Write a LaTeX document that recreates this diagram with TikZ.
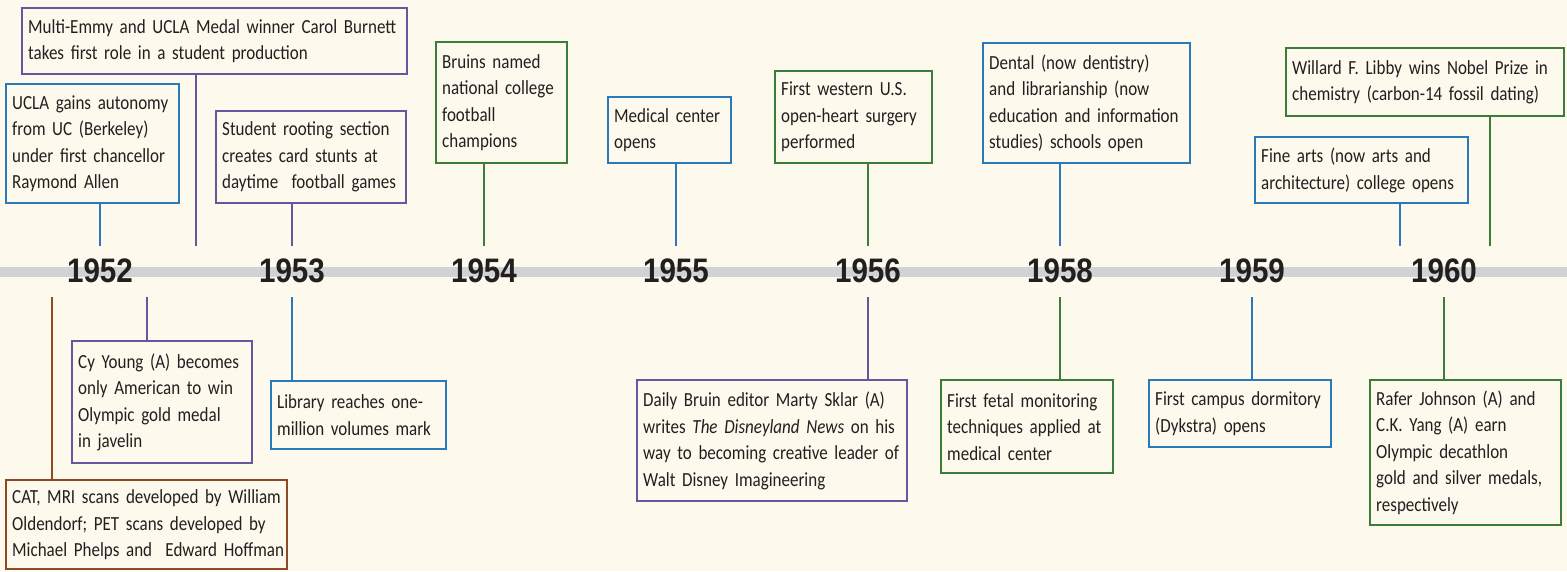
\documentclass[tikz,border=0pt]{standalone}
\usepackage{fontspec}
\setmainfont{Carlito}[FakeStretch=0.85]
\newfontfamily\yearfont{Liberation Sans}[FakeStretch=0.87]
\usetikzlibrary{positioning, backgrounds}
\definecolor{cream}{HTML}{FDF9ED}
\definecolor{ucblue}{HTML}{2A7AB9}
\definecolor{ucpurple}{HTML}{6B55A1}
\definecolor{ucgreen}{HTML}{3D7D3A}
\definecolor{ucbrown}{HTML}{8E4A23}
\definecolor{bargray}{HTML}{D1D2D4}
\definecolor{ink}{HTML}{231F20}
\newcommand{\evfont}{\fontsize{20}{26.5}\selectfont\hyphenpenalty=10000\relax
	\spaceskip=0.85\fontdimen2\font\relax}
\tikzset{%
	event/.style={draw, rectangle, line width=2.4pt, fill=cream, anchor=north west,%
		align=left, inner xsep=6pt, inner ysep=0pt, text=ink, font=\evfont},
	blu/.style={draw=ucblue},
	pur/.style={draw=ucpurple},
	grn/.style={draw=ucgreen},
	brn/.style={draw=ucbrown},
	stem/.style={line width=2.4pt},
	year/.style={font=\yearfont\bfseries\fontsize{34}{34}\selectfont, text=ink, inner sep=0pt},
	bar/.style={line width=10pt, draw=bargray}
}
\begin{document}
\begin{tikzpicture}[x=1pt, y=-1pt]
	\useasboundingbox (0,0) rectangle (1567,571);
	\fill[cream] (0,0) rectangle (1567,571);
	\coordinate (barL) at (0,272);
	\coordinate (barR) at (1567,272);
	\draw[bar] (barL) -- (barR);

	\node[year] (y52) at (100,271) {1952};
	\node[year] (y53) at (292,271) {1953};
	\node[year] (y54) at (484,271) {1954};
	\node[year] (y55) at (676,271) {1955};
	\node[year] (y56) at (868,271) {1956};
	\node[year] (y58) at (1060,271) {1958};
	\node[year] (y59) at (1252,271) {1959};
	\node[year] (y60) at (1444,271) {1960};

	% events above the line
	\node[event, blu, minimum width=173pt, minimum height=119pt, text width=161pt] (ucla) at (5,83)
		{UCLA gains autonomy\\from UC (Berkeley)\\under first chancellor\\Raymond Allen};
	\node[event, pur, minimum width=385pt, minimum height=66pt, text width=373pt] (burnett) at (21,7)
		{Multi-Emmy and UCLA Medal winner Carol Burnett\\takes first role in a student production};
	\node[event, pur, minimum width=190pt, minimum height=92pt, text width=178pt] (rooting) at (215,110)
		{Student rooting section\\creates card stunts at\\\mbox{daytime\ \ football games}};
	\node[event, grn, minimum width=131pt, minimum height=121pt, text width=119pt] (bruins) at (435,41)
		{Bruins named\\national college\\football\\champions};
	\node[event, blu, minimum width=123pt, minimum height=66pt, text width=111pt] (medctr) at (607,96)
		{Medical center\\opens};
	\node[event, grn, minimum width=157pt, minimum height=92pt, text width=145pt] (heart) at (774,70)
		{First western U.S.\\open-heart surgery\\performed};
	\node[event, blu, minimum width=207pt, minimum height=120pt, text width=195pt] (dental) at (982,42)
		{Dental (now dentistry)\\and librarianship (now\\education and information\\studies) schools open};
	\node[event, blu, minimum width=213pt, minimum height=66pt, text width=201pt] (finearts) at (1254,136)
		{Fine arts (now arts and\\architecture) college opens};
	\node[event, grn, minimum width=278pt, minimum height=68pt, text width=266pt] (libby) at (1285,47)
		{Willard F. Libby wins Nobel Prize in\\chemistry (carbon-14 fossil dating)};

	% events below the line
	\node[event, brn, minimum width=281pt, minimum height=89pt, text width=269pt] (scans) at (5,479)
		{\mbox{CAT, MRI scans developed by William}\\Oldendorf; PET scans developed by\\\mbox{Michael Phelps and\ \ Edward Hoffman}};
	\node[event, pur, minimum width=180pt, minimum height=122pt, text width=168pt] (young) at (71,340)
		{Cy Young (A) becomes\\only American to win\\Olympic gold medal\\in javelin};
	\node[event, blu, minimum width=175pt, minimum height=68pt, text width=163pt] (library) at (270,380)
		{Library reaches one-\\million volumes mark};
	\node[event, pur, minimum width=270pt, minimum height=121pt, text width=258pt] (sklar) at (636,379)
		{Daily Bruin editor Marty Sklar (A)\\writes \textit{The Disneyland News} on his\\way to becoming creative leader of\\Walt Disney Imagineering};
	\node[event, grn, minimum width=172pt, minimum height=93pt, text width=160pt] (fetal) at (940,379)
		{First fetal monitoring\\techniques applied at\\medical center};
	\node[event, blu, minimum width=182pt, minimum height=67pt, text width=170pt] (dykstra) at (1148,379)
		{First campus dormitory\\(Dykstra) opens};
	\node[event, grn, minimum width=191pt, minimum height=145pt, text width=179pt] (rafer) at (1369,379)
		{Rafer Johnson (A) and\\C.K. Yang (A) earn\\Olympic decathlon\\gold and silver medals,\\respectively};

	% stems
	\coordinate (ta) at (100,246);
	\coordinate (tb) at (196,246);
	\coordinate (tc) at (292,246);
	\coordinate (td) at (484,246);
	\coordinate (te) at (676,246);
	\coordinate (tf) at (868,246);
	\coordinate (tg) at (1060,246);
	\coordinate (th) at (1400,246);
	\coordinate (ti) at (1490,246);
	\coordinate (ba) at (52,297);
	\coordinate (bb) at (147,297);
	\coordinate (bc) at (292,297);
	\coordinate (bd) at (868,297);
	\coordinate (be) at (1060,297);
	\coordinate (bf) at (1252,297);
	\coordinate (bg) at (1444,297);

	\draw[stem, ucblue] (ta) -- (ta |- ucla.south);
	\draw[stem, ucpurple] (tb) -- (tb |- burnett.south);
	\draw[stem, ucpurple] (tc) -- (tc |- rooting.south);
	\draw[stem, ucgreen] (td) -- (td |- bruins.south);
	\draw[stem, ucblue] (te) -- (te |- medctr.south);
	\draw[stem, ucgreen] (tf) -- (tf |- heart.south);
	\draw[stem, ucblue] (tg) -- (tg |- dental.south);
	\draw[stem, ucblue] (th) -- (th |- finearts.south);
	\draw[stem, ucgreen] (ti) -- (ti |- libby.south);
	\draw[stem, ucbrown] (ba) -- (ba |- scans.north);
	\draw[stem, ucpurple] (bb) -- (bb |- young.north);
	\draw[stem, ucblue] (bc) -- (bc |- library.north);
	\draw[stem, ucpurple] (bd) -- (bd |- sklar.north);
	\draw[stem, ucgreen] (be) -- (be |- fetal.north);
	\draw[stem, ucblue] (bf) -- (bf |- dykstra.north);
	\draw[stem, ucgreen] (bg) -- (bg |- rafer.north);
\end{tikzpicture}
\end{document}
